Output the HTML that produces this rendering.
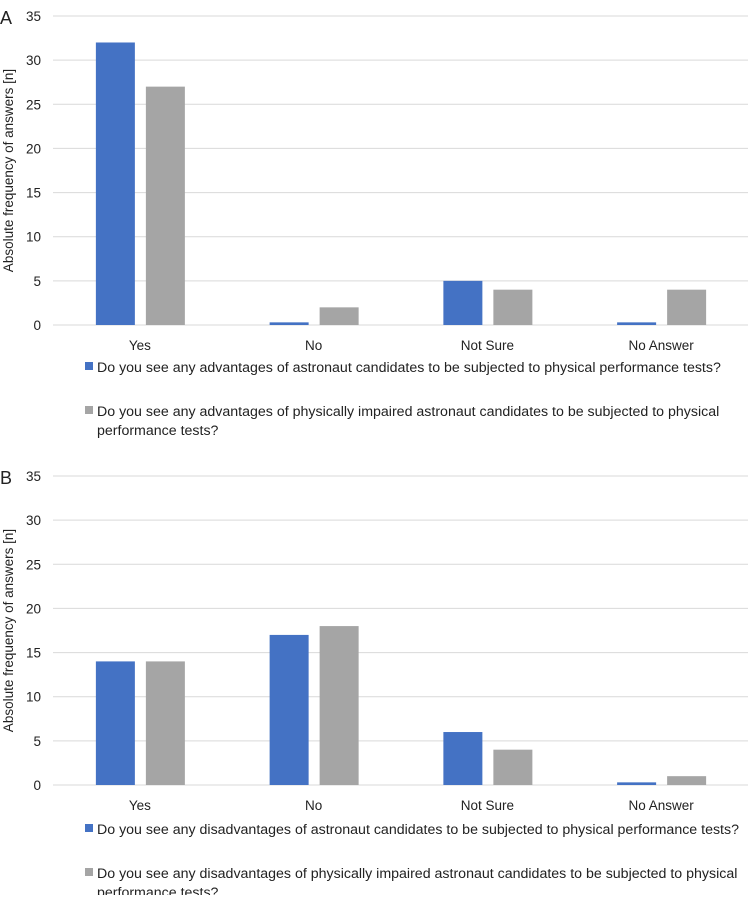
<!DOCTYPE html>
<html><head><meta charset="utf-8"><style>
body{margin:0;background:#fff;width:748px;height:895px;overflow:hidden;font-family:"Liberation Sans",sans-serif;}
svg text{font-family:"Liberation Sans",sans-serif;fill:#222;}
</style></head><body>
<svg id="chart" width="748" height="895"></svg>
<script>
const categories=["Yes","No","Not Sure","No Answer"];
const ticks=[0,5,10,15,20,25,30,35];
const seriesA1=[32,0.3,5,0.3];
const seriesA2=[27,2,4,4];
const seriesB1=[14,17,6,0.3];
const seriesB2=[14,18,4,1];
const legendA1=["Do you see any advantages of astronaut candidates to be subjected to physical performance tests?"];
const legendA2=["Do you see any advantages of physically impaired astronaut candidates to be subjected to physical","performance tests?"];
const legendB1=["Do you see any disadvantages of astronaut candidates to be subjected to physical performance tests?"];
const legendB2=["Do you see any disadvantages of physically impaired astronaut candidates to be subjected to physical","performance tests?"];
const svg=document.getElementById('chart');
const NS='http://www.w3.org/2000/svg';
function mk(t,a,txt){const e=document.createElementNS(NS,t);for(const k in a)e.setAttribute(k,a[k]);if(txt!==undefined)e.textContent=txt;svg.appendChild(e);return e;}
function panel(letter,y0,yTop,s1,s2,l1,l2,legY){
  const left=53,right=748,max=35;
  const y=v=>y0-(v/max)*(y0-yTop);
  const band=(right-left)/categories.length;
  const x=i=>left+band*i+band/2;
  let t=mk('text',{x:0,y:yTop+8,'font-size':18},letter);
  
  
  ticks.forEach(v=>{
    let g=mk('line',{x1:left,x2:right,y1:y(v),y2:y(v),stroke:'#d9d9d9','stroke-width':1});
    
    
    let l=mk('text',{x:41,y:y(v)+5,'font-size':13.5,'text-anchor':'end'},v);
    
    
  });
  let yt=mk('text',{transform:`translate(13,${(y0+yTop)/2}) rotate(-90)`,'font-size':13.5,'text-anchor':'middle'},'Absolute frequency of answers [n]');
  
  
  categories.forEach((c,i)=>{
    let b1=mk('rect',{x:x(i)-44,y:y(s1[i]),width:39,height:y0-y(s1[i]),fill:'#4472c4'});
    
    
    let b2=mk('rect',{x:x(i)+6,y:y(s2[i]),width:39,height:y0-y(s2[i]),fill:'#a5a5a5'});
    
    
    let cl=mk('text',{x:x(i),y:y0+25,'font-size':13.5,'text-anchor':'middle'},c);
    
    
  });
  [[l1,'#4472c4',legY],[l2,'#a5a5a5',legY+44]].forEach(([lines,col,ly],k)=>{
    let sq=mk('rect',{x:85,y:ly-10,width:8,height:8,fill:col});
    
    
    lines.forEach((ln,j)=>{
      let tx=mk('text',{x:97,y:ly+j*19,'font-size':14.2},ln);
      
      
    });
  });
}
panel('A',325,16,seriesA1,seriesA2,legendA1,legendA2,372);
panel('B',785,476,seriesB1,seriesB2,legendB1,legendB2,834);
</script>
</body></html>
